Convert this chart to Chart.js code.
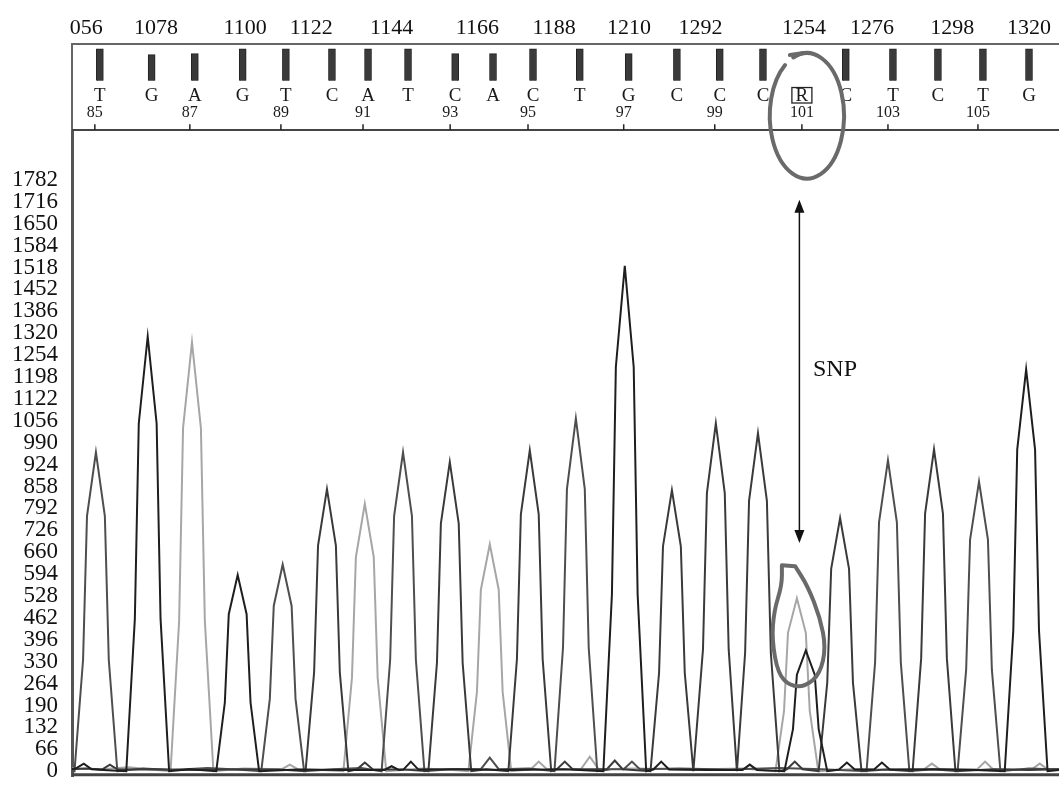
<!DOCTYPE html>
<html>
<head>
<meta charset="utf-8">
<script src="https://cdn.jsdelivr.net/npm/chart.js@4.4.1/dist/chart.umd.min.js"></script>
<style>
  html, body { margin: 0; padding: 0; background: #fff; }
  #wrap { width: 1059px; height: 804px; position: relative; }
</style>
</head>
<body>
<div id="wrap"><canvas id="trace"></canvas></div>
<script>
// scan numbers printed along the top border (positions in scan units)
const scanTickPos = [1056, 1075.5, 1100.5, 1119, 1141.5, 1165.5, 1187, 1208, 1228, 1257, 1276, 1298.5, 1320];
const scanTickLabels = ['056', '1078', '1100', '1122', '1144', '1166', '1188', '1210', '1292', '1254', '1276', '1298', '1320'];

// signal axis
const yTickValues = [0, 66, 132, 198, 264, 330, 396, 462, 528, 594, 660, 726, 792, 858, 924, 990, 1056, 1122, 1188, 1254, 1320, 1386, 1452, 1518, 1584, 1650, 1716, 1782];
const yTickLabels = ['0', '66', '132', '190', '264', '330', '396', '462', '528', '594', '660', '726', '792', '858', '924', '990', '1056', '1122', '1198', '1254', '1320', '1386', '1452', '1518', '1584', '1650', '1716', '1782'];

// base calls
const baseNumbers = [85, 86, 87, 88, 89, 90, 91, 92, 93, 94, 95, 96, 97, 98, 99, 100, 101, 102, 103, 104, 105, 106];
const baseCalls = ['T', 'G', 'A', 'G', 'T', 'C', 'A', 'T', 'C', 'A', 'C', 'T', 'G', 'C', 'C', 'C', 'R', 'C', 'T', 'C', 'T', 'G'];
const basePos = [1059.8, 1074.3, 1086.4, 1099.8, 1111.9, 1124.8, 1134.9, 1146.1, 1159.3, 1169.9, 1181.1, 1194.2, 1207.9, 1221.4, 1233.4, 1245.5, 1256.4, 1268.7, 1281.9, 1294.5, 1307.1, 1320.0];
const baseQuality = [33, 27, 28, 33, 33, 33, 33, 33, 28, 28, 33, 33, 28, 33, 33, 33, 0, 33, 33, 33, 33, 33];

// trace points [scan, signal] per channel
const traceT = [
  [1050, 6], [1052.7, 0], [1055.1, 336], [1056.2, 769], [1058.7, 961], [1061.2, 769], [1062.3, 336], [1064.7, 0],
  [1072, 8], [1080, 4], [1090, 10], [1098, 5],
  [1105.0, 0], [1107.4, 218], [1108.5, 498], [1111.0, 623], [1113.5, 498], [1114.6, 218], [1117.0, 0],
  [1125, 6], [1133, 10],
  [1138.7, 0], [1141.1, 336], [1142.2, 769], [1144.7, 961], [1147.2, 769], [1148.3, 336], [1150.7, 0],
  [1158, 6], [1166.5, 6], [1169, 41], [1171.5, 6], [1180, 8],
  [1187.1, 0], [1189.5, 372], [1190.6, 850], [1193.1, 1063], [1195.6, 850], [1196.7, 372], [1199.1, 0],
  [1203, 6], [1206.5, 6], [1208.8, 29], [1211, 6], [1222, 8], [1236, 5], [1250, 10], [1262, 6],
  [1274.5, 0], [1276.9, 328], [1278.0, 750], [1280.5, 937], [1283.0, 750], [1284.1, 328], [1286.5, 0],
  [1293, 6],
  [1300.0, 0], [1302.4, 306], [1303.5, 698], [1306.0, 873], [1308.5, 698], [1309.6, 306], [1312.0, 0],
  [1320, 8], [1330, 5]
];
const traceG = [
  [1050, 4], [1053, 8], [1055.3, 23], [1057.5, 6], [1062, 3],
  [1067.2, 0], [1069.6, 459], [1070.7, 1048], [1073.2, 1310], [1075.7, 1048], [1076.8, 459], [1079.2, 0],
  [1085, 6],
  [1092.4, 0], [1094.8, 207], [1095.9, 473], [1098.4, 591], [1100.9, 473], [1102.0, 207], [1104.4, 0],
  [1115, 5], [1128, 4], [1139.5, 4], [1141.5, 15], [1143.5, 4], [1144.8, 5], [1146.9, 29], [1149, 5], [1160, 6], [1175, 4], [1190, 6],
  [1200.8, 0], [1203.2, 533], [1204.3, 1218], [1206.8, 1523], [1209.3, 1218], [1210.4, 533], [1212.8, 0],
  [1214.8, 5], [1217, 29], [1219.2, 5], [1230, 4], [1239.8, 4], [1241.8, 20], [1243.8, 4],
  [1251.5, 0], [1253.9, 127], [1255.0, 291], [1257.5, 364], [1260.0, 291], [1261.1, 127], [1263.5, 0],
  [1266.8, 5], [1269, 26], [1271.2, 5], [1276.6, 5], [1278.8, 26], [1281, 5], [1295, 6], [1305, 4],
  [1313.2, 0], [1315.6, 424], [1316.7, 969], [1319.2, 1211], [1321.7, 969], [1322.8, 424], [1325.2, 0],
  [1330, 5]
];
const traceA = [
  [1050, 10], [1060, 6], [1068, 12], [1074, 5],
  [1079.6, 0], [1082.0, 453], [1083.1, 1034], [1085.6, 1293], [1088.1, 1034], [1089.2, 453], [1091.6, 0],
  [1100, 8], [1110.8, 6], [1113, 20], [1115.2, 6], [1122, 4],
  [1128.0, 0], [1130.4, 282], [1131.5, 645], [1134.0, 806], [1136.5, 645], [1137.6, 282], [1140.0, 0],
  [1150, 8], [1157, 5],
  [1163.0, 0], [1165.4, 239], [1166.5, 547], [1169.0, 684], [1171.5, 547], [1172.6, 239], [1175.0, 0],
  [1180.5, 6], [1182.7, 29], [1185, 6], [1194.5, 6], [1197, 44], [1199.5, 6], [1210, 8], [1225, 5], [1240, 8],
  [1249.0, 0], [1251.4, 182], [1252.5, 417], [1255.0, 521], [1257.5, 417], [1258.6, 182], [1261.0, 0],
  [1270, 6], [1280, 5], [1290.6, 6], [1292.8, 23], [1295, 6], [1305.5, 6], [1307.7, 29], [1309.9, 6],
  [1320.8, 6], [1323, 23], [1325.2, 6], [1330, 6]
];
const traceC = [
  [1050, 5], [1056, 8], [1060.4, 5], [1062.6, 20], [1064.8, 5], [1075, 6], [1088, 4], [1100, 6], [1110, 5],
  [1117.4, 0], [1119.8, 298], [1120.9, 680], [1123.4, 850], [1125.9, 680], [1127.0, 298], [1129.4, 0],
  [1131.8, 6], [1134, 26], [1136.2, 6], [1145, 5],
  [1151.8, 0], [1154.2, 326], [1155.3, 746], [1157.8, 932], [1160.3, 746], [1161.4, 326], [1163.8, 0],
  [1168, 6],
  [1174.2, 0], [1176.6, 338], [1177.7, 774], [1180.2, 967], [1182.7, 774], [1183.8, 338], [1186.2, 0],
  [1187.8, 6], [1190, 29], [1192.2, 6], [1201.8, 6], [1204, 32], [1206.2, 6],
  [1214.0, 0], [1216.4, 296], [1217.5, 678], [1220.0, 847], [1222.5, 678], [1223.6, 296], [1226.0, 0],
  [1228.7, 367], [1229.8, 838], [1232.3, 1048], [1234.8, 838], [1235.9, 367], [1238.2, 0],
  [1240.5, 357], [1241.6, 815], [1244.1, 1019], [1246.6, 815], [1247.7, 357], [1250.1, 0],
  [1252.2, 6], [1254.4, 29], [1256.6, 6],
  [1261.1, 0], [1263.5, 267], [1264.6, 610], [1267.1, 763], [1269.6, 610], [1270.7, 267], [1273.1, 0],
  [1280, 5],
  [1287.4, 0], [1289.8, 340], [1290.9, 776], [1293.4, 970], [1295.9, 776], [1297.0, 340], [1299.4, 0],
  [1310, 6], [1320, 4], [1330, 6]
];

const serif = '"Liberation Serif", "Times New Roman", serif';

function pts(arr) {
  return arr.map(p => ({ x: p[0], y: p[1] }));
}

function traceSet(label, arr, color) {
  return {
    type: 'line', label: label, data: pts(arr), yAxisID: 'y',
    borderColor: color, borderWidth: 2, pointRadius: 0, tension: 0, fill: false
  };
}

// header text + hand drawn marks (SNP arrow, the two circles)
const headerPlugin = {
  id: 'header',
  afterDraw(chart) {
    const { ctx, chartArea } = chart;
    const x = chart.scales.x, y = chart.scales.y, yq = chart.scales.yq;
    ctx.save();

    // border lines
    ctx.strokeStyle = '#444';
    ctx.lineWidth = 2;
    ctx.beginPath();
    ctx.moveTo(chartArea.left, yq.bottom);
    ctx.lineTo(chartArea.right, yq.bottom);
    ctx.stroke();
    ctx.lineWidth = 3;
    ctx.beginPath();
    ctx.moveTo(chartArea.left, chartArea.bottom - 1.5);
    ctx.lineTo(chartArea.right, chartArea.bottom - 1.5);
    ctx.stroke();

    // base letters
    ctx.fillStyle = '#1a1a1a';
    ctx.textAlign = 'center';
    ctx.textBaseline = 'middle';
    ctx.font = '19px ' + serif;
    baseCalls.forEach((b, i) => {
      ctx.fillText(b, x.getPixelForValue(basePos[i]), yq.getPixelForValue(-16));
    });
    // R box
    const ri = baseCalls.indexOf('R');
    const rx = x.getPixelForValue(basePos[ri]);
    ctx.lineWidth = 1.3;
    ctx.strokeStyle = '#222';
    ctx.strokeRect(rx - 10, yq.getPixelForValue(-7), 20, yq.getPixelForValue(-23) - yq.getPixelForValue(-7));

    // position numbers + ticks
    ctx.font = '16px ' + serif;
    ctx.lineWidth = 1.5;
    baseNumbers.forEach((n, i) => {
      if (n % 2 === 0) return;
      const px = x.getPixelForValue(basePos[i]) - (i === ri ? 0 : 5);
      ctx.fillText(String(n), px, yq.getPixelForValue(-33));
      ctx.beginPath();
      ctx.moveTo(px, yq.getPixelForValue(-45));
      ctx.lineTo(px, yq.getPixelForValue(-51));
      ctx.stroke();
    });

    // SNP arrow
    const ax = x.getPixelForValue(1255.7);
    const aTop = y.getPixelForValue(1722), aBot = y.getPixelForValue(688);
    ctx.strokeStyle = '#111';
    ctx.fillStyle = '#111';
    ctx.lineWidth = 1.5;
    ctx.beginPath();
    ctx.moveTo(ax, aTop + 10);
    ctx.lineTo(ax, aBot - 10);
    ctx.stroke();
    ctx.beginPath();
    ctx.moveTo(ax, aTop); ctx.lineTo(ax - 5, aTop + 13); ctx.lineTo(ax + 5, aTop + 13); ctx.closePath();
    ctx.fill();
    ctx.beginPath();
    ctx.moveTo(ax, aBot); ctx.lineTo(ax - 5, aBot - 13); ctx.lineTo(ax + 5, aBot - 13); ctx.closePath();
    ctx.fill();
    ctx.font = '24px ' + serif;
    ctx.textAlign = 'left';
    ctx.fillText('SNP', x.getPixelForValue(1259.5), y.getPixelForValue(1209));

    // circles drawn by hand (grey, thick)
    ctx.strokeStyle = '#6a6a6a';
    ctx.lineWidth = 4;
    ctx.lineCap = 'round';
    ctx.lineJoin = 'round';
    const cx = x.getPixelForValue(1257.8), cy = y.getPixelForValue(1975);
    const erx = x.getPixelForValue(1257.8 + 10.4) - cx;
    const ery = y.getPixelForValue(1975 - 189) - cy;
    ctx.beginPath();
    ctx.ellipse(cx, cy, erx, ery, 0, -Math.PI * 0.62, Math.PI * 1.3);
    ctx.stroke();
    ctx.beginPath();
    ctx.moveTo(cx - 17, cy - ery + 2);
    ctx.lineTo(cx - 3, cy - ery);
    ctx.stroke();

    const blob = [[1250.8, 621], [1254.5, 618], [1258.1, 556], [1261.5, 463], [1263.1, 373], [1261.5, 294],
                  [1257.5, 256], [1253.1, 256], [1249.7, 294], [1248.0, 396], [1248.6, 484], [1250.8, 560]];
    const bp = blob.map(p => [x.getPixelForValue(p[0]), y.getPixelForValue(p[1])]);
    ctx.beginPath();
    ctx.moveTo(bp[0][0], bp[0][1]);
    ctx.lineTo(bp[1][0], bp[1][1]);
    for (let i = 1; i < bp.length; i++) {
      const a = bp[i], b = bp[(i + 1) % bp.length];
      ctx.quadraticCurveTo(a[0], a[1], (a[0] + b[0]) / 2, (a[1] + b[1]) / 2);
    }
    ctx.lineTo(bp[0][0], bp[0][1]);
    ctx.stroke();

    ctx.restore();
  }
};

const chart = new Chart(document.getElementById('trace').getContext('2d'), {
  type: 'line',
  data: {
    datasets: [
      traceSet('G', traceG, '#1e1e1e'),
      traceSet('C', traceC, '#3a3a3a'),
      traceSet('T', traceT, '#4e4e4e'),
      traceSet('A', traceA, '#a6a6a6'),
      {
        type: 'bar', label: 'QV', yAxisID: 'yq',
        data: basePos.map((p, i) => ({ x: p, y: baseQuality[i] })),
        backgroundColor: '#3a3a3a', borderColor: '#222', borderWidth: 1, barThickness: 7
      }
    ]
  },
  options: {
    responsive: true,
    maintainAspectRatio: false,
    animation: false,
    layout: { padding: { top: 0, right: 0, bottom: 3, left: 0 } },
    plugins: { legend: { display: false }, tooltip: { enabled: false } },
    scales: {
      x: {
        type: 'linear', position: 'top', min: 1052, max: 1328.4, offset: false,
        grid: { display: false, drawTicks: false },
        border: { display: true, color: '#666', width: 2 },
        afterBuildTicks: s => { s.ticks = scanTickPos.map(v => ({ value: v })); },
        afterFit: s => { s.height = 44; },
        ticks: {
          autoSkip: false, maxRotation: 0, padding: 3, color: '#111',
          font: { family: serif, size: 22 },
          callback: (v, i) => scanTickLabels[i]
        }
      },
      // left boxes are laid out in reverse, so the signal axis comes first here
      y: {
        type: 'linear', position: 'left', stack: 'left', stackWeight: 668, min: -15, max: 1932,
        grid: { display: false, drawTicks: false },
        border: { display: true, color: '#555', width: 3 },
        afterBuildTicks: s => { s.ticks = yTickValues.map(v => ({ value: v })); },
        afterFit: s => { s.width = 72; },
        ticks: {
          autoSkip: false, padding: 14, color: '#111',
          font: { family: serif, size: 23 },
          callback: (v, i) => yTickLabels[i]
        }
      },
      yq: {
        type: 'linear', position: 'left', stack: 'left', stackWeight: 89, min: -51, max: 38,
        grid: { display: false, drawTicks: false },
        ticks: { display: false },
        border: { display: true, color: '#666', width: 2 },
        afterFit: s => { s.width = 72; }
      }
    }
  },
  plugins: [headerPlugin]
});
</script>
</body>
</html>
